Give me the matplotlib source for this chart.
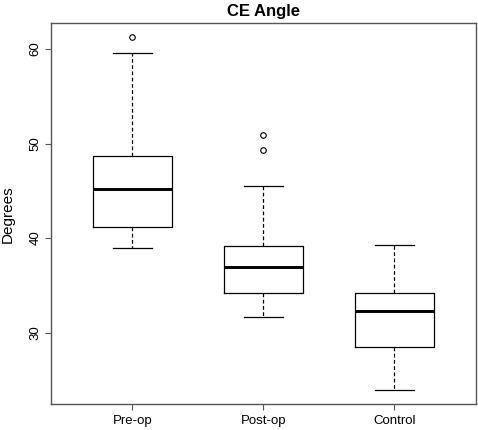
import matplotlib
matplotlib.use("Agg")
import matplotlib.pyplot as plt

plt.rcParams['font.family'] = ['Liberation Sans', 'DejaVu Sans']

groups = ["Pre-op", "Post-op", "Control"]
whislo = [38.97, 31.7, 23.92]
q1 = [41.2, 34.2, 28.47]
med = [45.23, 36.9, 32.25]
q3 = [48.65, 39.2, 34.2]
whishi = [59.58, 45.5, 39.24]
fliers = [[61.24], [50.87, 49.36], []]

stats = []
for i, name in enumerate(groups):
    stats.append(dict(label=name, whislo=whislo[i], q1=q1[i], med=med[i],
                      q3=q3[i], whishi=whishi[i], fliers=fliers[i]))

fig = plt.figure(figsize=(4.78, 4.30), dpi=100)
ax = fig.add_axes([0.107, 0.060, 0.888, 0.886])

ax.bxp(stats, positions=[1, 2, 3], widths=0.6, showfliers=True,
       boxprops=dict(color='black', linewidth=0.9),
       medianprops=dict(color='black', linewidth=2.1),
       whiskerprops=dict(color='black', linewidth=0.9, linestyle=(0, (3, 2))),
       capprops=dict(color='black', linewidth=0.9),
       capwidths=0.3,
       flierprops=dict(marker='o', markerfacecolor='none', markeredgecolor='black',
                       markersize=4, markeredgewidth=0.8))

lo = min(whislo)
hi = max(max(f) if f else 0 for f in fliers)
pad = (hi - lo) * 0.04
ax.set_ylim(lo - pad, hi + pad)
ax.set_xlim(0.5 - 0.12, 3.5 + 0.12)

ax.set_yticks([30, 40, 50, 60])
ax.set_xticks([1, 2, 3])
ax.set_xticklabels(groups)
for lbl in ax.get_yticklabels():
    lbl.set_rotation(90)
    lbl.set_va('center')
ax.tick_params(labelsize=9.5, length=4, width=0.8, color='#555555')
ax.tick_params(axis='x', pad=4)
ax.tick_params(axis='y', pad=3)
for s in ax.spines.values():
    s.set_color('#555555')
    s.set_linewidth(1.0)

ax.set_ylabel("Degrees", fontsize=11)
ax.yaxis.set_label_coords(-0.085, 0.5)
ax.set_title("CE Angle", fontsize=12, fontweight='bold', pad=5)

fig.savefig("out.png", dpi=100)
